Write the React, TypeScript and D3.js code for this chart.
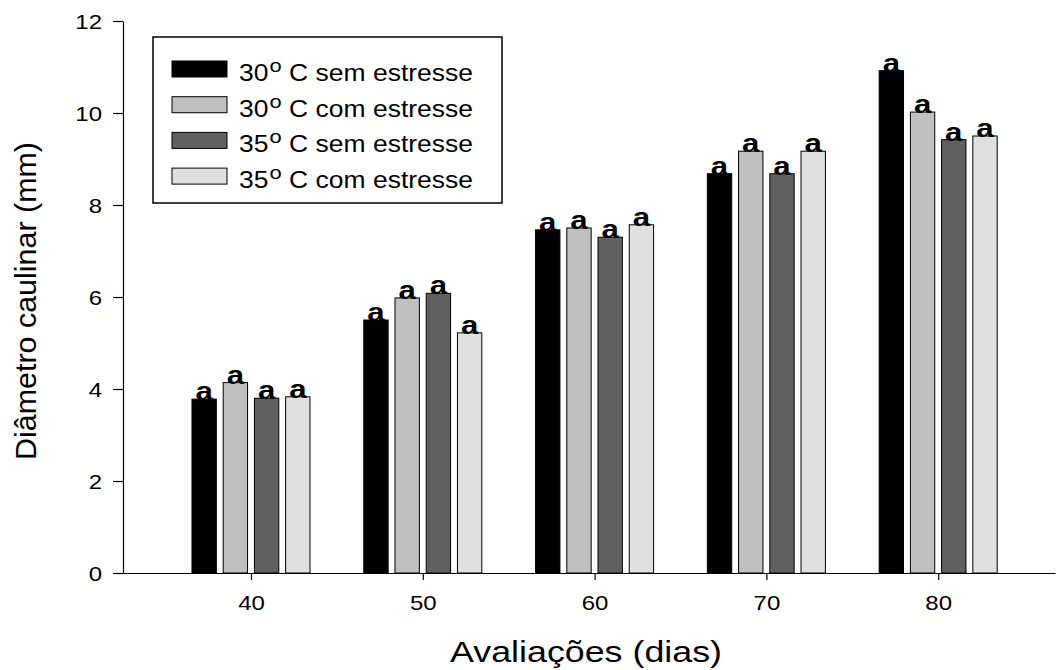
import { useEffect, useRef } from 'react';
import * as d3 from 'd3';

const days = [40, 50, 60, 70, 80];
const seriesNames = ['30 sem', '30 com', '35 sem', '35 com'];
const seriesTemps = ['30', '30', '35', '35'];
const seriesTails = ['C sem estresse', 'C com estresse', 'C sem estresse', 'C com estresse'];
const seriesColors = ['#000000', '#c0c0c0', '#606060', '#e0e0e0'];

const t30sem = [3.78, 5.5, 7.46, 8.68, 10.92];
const t30com = [4.14, 5.98, 7.5, 9.17, 10.02];
const t35sem = [3.8, 6.08, 7.3, 8.68, 9.42];
const t35com = [3.83, 5.22, 7.57, 9.17, 9.5];
const letters = ['a', 'a', 'a', 'a'];

const yTicks = [0, 2, 4, 6, 8, 10, 12];

const STRETCH = 1.2;

export default function App() {
  const ref = useRef<SVGSVGElement | null>(null);

  useEffect(() => {
    const width = 1059;
    const height = 670;
    const svg = d3.select(ref.current);
    svg.selectAll('*').remove();
    svg.attr('viewBox', `0 0 ${width} ${height}`);

    const values = [t30sem, t30com, t35sem, t35com];

    const x = d3.scaleLinear().domain([32.55, 86.8]).range([123, 1055]);
    const y = d3.scaleLinear().domain([0, 12]).range([573, 21]);
    const inner = d3
      .scaleBand()
      .domain(seriesNames)
      .range([-3.435, 3.435])
      .paddingInner(0.22)
      .paddingOuter(0);
    const bw = x(inner.bandwidth()) - x(0);

    const root = svg.append('g').attr('font-family', 'Arial, "Liberation Sans", sans-serif');

    // bars
    seriesNames.forEach((name, si) => {
      const g = root.append('g');
      g.selectAll('rect')
        .data(days.map((d, i) => ({ day: d, v: values[si][i] })))
        .join('rect')
        .attr('x', (d) => x(d.day + (inner(name) ?? 0)))
        .attr('y', (d) => y(d.v))
        .attr('width', bw)
        .attr('height', (d) => y(0) - y(d.v))
        .attr('fill', seriesColors[si])
        .attr('stroke', '#000')
        .attr('stroke-width', 1);

      g.selectAll('text')
        .data(days.map((d, i) => ({ day: d, v: values[si][i] })))
        .join('text')
        .attr(
          'transform',
          (d) => `translate(${x(d.day + (inner(name) ?? 0)) + bw / 2},${y(d.v) + 1}) scale(${STRETCH},1)`
        )
        .attr('text-anchor', 'middle')
        .attr('font-size', 26)
        .attr('font-weight', 'bold')
        .text(letters[si]);
    });

    // y axis
    const yAxis = root
      .append('g')
      .attr('transform', `translate(123,0)`)
      .call(d3.axisLeft(y).tickValues(yTicks).tickSize(10).tickSizeOuter(0).tickFormat((v) => `${v}`));
    yAxis.select('.domain').attr('stroke', '#000').attr('stroke-width', 1.2);
    yAxis.selectAll('line').attr('stroke', '#000').attr('stroke-width', 1.2);
    yAxis
      .selectAll('text')
      .attr('font-size', 20)
      .attr('font-family', 'Arial, "Liberation Sans", sans-serif')
      .attr('fill', '#000')
      .attr('dy', '0.36em')
      .attr('x', 0)
      .attr('transform', `translate(-21,0) scale(${STRETCH},1)`);

    // x axis
    const xAxis = root
      .append('g')
      .attr('transform', `translate(0,573)`)
      .call(d3.axisBottom(x).tickValues(days).tickSize(7).tickSizeOuter(0).tickFormat((v) => `${v}`));
    xAxis.select('.domain').attr('stroke', '#000').attr('stroke-width', 1.2);
    xAxis.selectAll('line').attr('stroke', '#000').attr('stroke-width', 1.2);
    xAxis
      .selectAll('text')
      .attr('font-size', 20)
      .attr('font-family', 'Arial, "Liberation Sans", sans-serif')
      .attr('fill', '#000')
      .attr('y', 0)
      .attr('dy', 0)
      .attr('transform', `translate(0,37) scale(${STRETCH},1)`);

    // axis titles
    root
      .append('text')
      .attr('x', 586)
      .attr('y', 662)
      .attr('text-anchor', 'middle')
      .attr('font-size', 30)
      .attr('textLength', 272)
      .attr('lengthAdjust', 'spacingAndGlyphs')
      .text('Avaliações (dias)');

    root
      .append('text')
      .attr('transform', 'translate(36,301) rotate(-90)')
      .attr('text-anchor', 'middle')
      .attr('font-size', 30)
      .attr('textLength', 318)
      .attr('lengthAdjust', 'spacingAndGlyphs')
      .text('Diâmetro caulinar (mm)');

    // legend
    const legend = root.append('g');
    legend
      .append('rect')
      .attr('x', 153)
      .attr('y', 37)
      .attr('width', 349)
      .attr('height', 166)
      .attr('fill', '#fff')
      .attr('stroke', '#000')
      .attr('stroke-width', 1.5);

    seriesNames.forEach((_, i) => {
      const top = 61 + i * 35.7;
      legend
        .append('rect')
        .attr('x', 172)
        .attr('y', top)
        .attr('width', 55)
        .attr('height', 16)
        .attr('fill', seriesColors[i])
        .attr('stroke', '#000')
        .attr('stroke-width', 1);
      const t = legend
        .append('text')
        .attr('x', 239)
        .attr('y', top + 20)
        .attr('font-size', 23)
        .attr('textLength', 234)
        .attr('lengthAdjust', 'spacingAndGlyphs');
      t.append('tspan').text(seriesTemps[i]);
      t.append('tspan').attr('font-size', 19).attr('dx', 1).attr('dy', -9).text('o');
      t.append('tspan').attr('dy', 9).text(` ${seriesTails[i]}`);
    });
  }, []);

  return (
    <svg
      ref={ref}
      width={1059}
      height={670}
      style={{ position: 'absolute', left: 0, top: 0, background: '#fff' }}
    />
  );
}
